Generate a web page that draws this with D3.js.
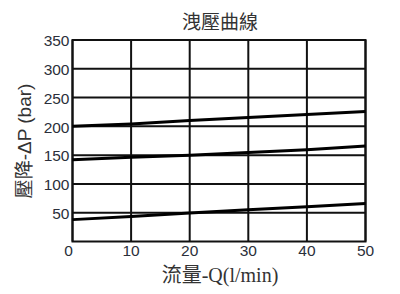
<!DOCTYPE html>
<html>
<head>
<meta charset="utf-8">
<script src="https://cdn.jsdelivr.net/npm/d3@7"></script>
<style>
  body { margin: 0; background: #fff; }
  svg { display: block; }
</style>
</head>
<body>
<svg id="chart" width="400" height="294"></svg>
<script>
// data
const flow = [0, 10, 20, 30, 40, 50];
const curveHigh = [200, 204, 210, 215.5, 220.5, 226];
const curveMid = [142, 146.5, 150, 154.5, 159.5, 166];
const curveLow = [38, 43.5, 49.5, 55, 60.5, 66];
const xTicks = [0, 10, 20, 30, 40, 50];
const yTicks = [50, 100, 150, 200, 250, 300, 350];

const svg = d3.select("#chart");
const margin = {left: 72.5, right: 34.5, top: 40, bottom: 52.5};
const w = 400 - margin.left - margin.right;
const h = 294 - margin.top - margin.bottom;

const x = d3.scaleLinear().domain([0, 50]).range([0, w]);
const y = d3.scaleLinear().domain([0, 350]).range([h, 0]);

const g = svg.append("g")
    .attr("transform", "translate(" + [margin.left, margin.top] + ")");

// grid
g.selectAll(".vgrid").data(xTicks).enter().append("line")
    .attr("class", "vgrid")
    .attr("x1", d => x(d)).attr("x2", d => x(d))
    .attr("y1", 0).attr("y2", h)
    .attr("stroke", "#111").attr("stroke-width", 2);

g.selectAll(".hgrid").data(yTicks).enter().append("line")
    .attr("class", "hgrid")
    .attr("x1", 0).attr("x2", w)
    .attr("y1", d => y(d)).attr("y2", d => y(d))
    .attr("stroke", "#111").attr("stroke-width", 2);

g.append("rect")
    .attr("width", w).attr("height", h)
    .attr("fill", "none").attr("stroke", "#111").attr("stroke-width", 2);

// curves
const line = d3.line()
    .x((d, i) => x(flow[i]))
    .y(d => y(d));

g.selectAll(".curve").data([curveHigh, curveMid, curveLow]).enter().append("path")
    .attr("class", "curve")
    .attr("d", line)
    .attr("fill", "none")
    .attr("stroke", "#000")
    .attr("stroke-width", 3);

// tick labels
const tickFont = "'Liberation Sans', Arial, sans-serif";
g.selectAll(".xlab").data(xTicks).enter().append("text")
    .attr("class", "xlab")
    .attr("x", d => x(d) - (d === 0 ? 4 : 0))
    .attr("y", h + 14.5)
    .attr("text-anchor", "middle")
    .attr("font-family", tickFont)
    .attr("font-size", 15.5)
    .attr("fill", "#2b2f3a")
    .text(d => d);

g.selectAll(".ylab").data(yTicks).enter().append("text")
    .attr("class", "ylab")
    .attr("x", -3)
    .attr("y", d => y(d))
    .attr("dy", "0.4em")
    .attr("text-anchor", "end")
    .attr("font-family", tickFont)
    .attr("font-size", 15.5)
    .attr("fill", "#2b2f3a")
    .text(d => d);

// titles
svg.append("text")
    .attr("x", 220).attr("y", 29)
    .attr("text-anchor", "middle")
    .attr("font-family", "'Noto Sans CJK TC', sans-serif")
    .attr("font-size", 19)
    .attr("fill", "#333")
    .text("洩壓曲線");

svg.append("text")
    .attr("x", 220).attr("y", 282)
    .attr("text-anchor", "middle")
    .attr("font-family", "'Liberation Serif', 'Noto Sans CJK TC', serif")
    .attr("font-size", 20)
    .attr("fill", "#333")
    .text("流量-Q(l/min)");

svg.append("text")
    .attr("transform", "translate(31,141) rotate(-90)")
    .attr("text-anchor", "middle")
    .attr("font-family", "'Liberation Sans', 'Noto Sans CJK TC', sans-serif")
    .attr("font-size", 19)
    .attr("fill", "#333")
    .text("壓降-ΔP (bar)");
</script>
</body>
</html>
